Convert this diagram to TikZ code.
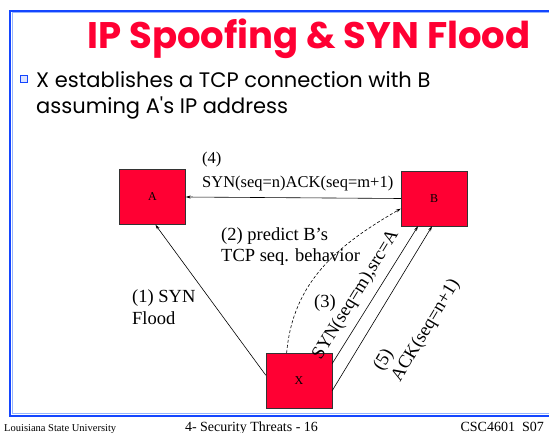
\documentclass[tikz,border=0pt]{standalone}
\usepackage{fontspec}
\setmainfont{Liberation Serif}
\newfontfamily\slidefont{Poppins}
\usetikzlibrary{arrows.meta}

\definecolor{boxred}{RGB}{255,0,51}
\definecolor{frameblue}{RGB}{20,70,255}
\definecolor{framelight}{RGB}{150,180,255}

\tikzset{
  host/.style={draw=black!80, fill=boxred, minimum width=66pt, minimum height=55pt,
    inner sep=0pt, font=\fontsize{12}{12}\selectfont},
  msg/.style={inner sep=0pt, align=left, font=\fontsize{18.5}{21}\selectfont},
  link/.style={line width=0.6pt, -{Stealth[length=5pt,width=3pt]}},
  slidetext/.style={inner sep=0pt, anchor=base west, font=\slidefont\fontsize{21}{24}\selectfont},
  foot/.style={inner sep=0pt, anchor=base},
}

\begin{document}
\begin{tikzpicture}[x=1pt,y=-1pt]
  \useasboundingbox (0,0) rectangle (549,433);

  % Slide frame
  \begin{scope}
    \clip (0,0) rectangle (549,433);
    \draw[framelight, line width=1pt] (560,13) -| (12.5,413.5) -- (560,413.5);
    \draw[frameblue, line width=1.6pt] (560,11) -| (10,416) -- (560,416);
  \end{scope}

  % Title
  \node[inner sep=0pt, anchor=base, text=boxred, font=\slidefont\bfseries\fontsize{37}{42}\selectfont]
    (title) at (309,49) {IP Spoofing \& SYN Flood};

  % Bullet
  \node[draw=frameblue, fill=frameblue!15, line width=1pt, minimum size=7pt, inner sep=0pt]
    (bullet) at (24,79) {};
  \node[slidetext] (line1) at (36,88) {X establishes a TCP connection with B};
  \node[slidetext] (line2) at (36,114) {assuming A's IP address};

  % Hosts
  \node[host] (A) at (152.5,197) {A};
  \node[host] (B) at (434,198.5) {B};
  \node[host] (X) at (299,380.5) {X};

  % Connections
  \draw[link] (B.west) -- (A.east);
  \draw[link] (X.171) -- (A.-84);
  \draw[link, dash pattern=on 3pt off 2pt] (X.114) to[out=85, in=210] (B.197);
  \draw[link] (X.27) -- (B.-120);
  \draw[link] (X.-17) -- (B.-94);

  % Labels
  \node[msg, anchor=west, font=\fontsize{16.5}{24}\selectfont] (step4) at (202,172)
    {(4)\\SYN(seq=n)ACK(seq=m+1)};
  \node[msg, anchor=west] (step2) at (221,246.5) {(2) predict B's\\TCP seq. behavior};
  \node[msg, anchor=west, font=\fontsize{18.5}{22}\selectfont] (step1) at (132,307) {(1) SYN\\Flood};
  \node[msg] (step3) at (325,303) {(3)};
  \node[msg, rotate=58.5] (syn3) at (356,295) {SYN(seq=m),src=A};
  \node[msg, rotate=59] (step5) at (417,325) {(5)\\ACK(seq=n+1)};

  % Footer
  \node[foot, anchor=base west, font=\fontsize{10.5}{12}\selectfont] (uni) at (4,431) {Louisiana State University};
  \node[foot, font=\fontsize{14}{16}\selectfont] (page) at (251.5,431) {4- Security Threats - 16};
  \node[foot, anchor=base east, font=\fontsize{14}{16}\selectfont] (course) at (544,431) {CSC4601\ \ S07};
\end{tikzpicture}
\end{document}
